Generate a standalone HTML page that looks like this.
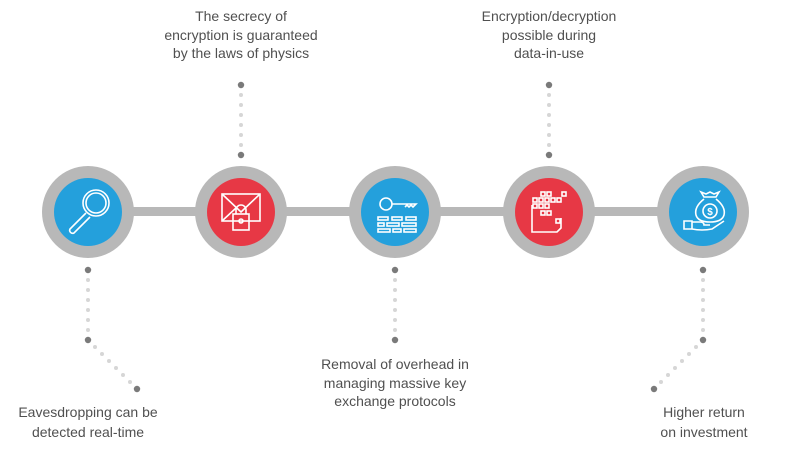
<!DOCTYPE html>
<html><head><meta charset="utf-8"><style>
html,body{margin:0;padding:0;background:#fff;}
svg{display:block}
text{font-family:"Liberation Sans",sans-serif;font-size:14px;fill:#505050;text-anchor:middle}
</style></head><body>
<svg width="790" height="450" viewBox="0 0 790 450" xmlns="http://www.w3.org/2000/svg">
<defs>
<g id="vcol">
 <circle cx="0" cy="0" r="3.2" fill="#7a7a7a"/>
 <circle cx="0" cy="10" r="2" fill="#d6d6d6"/>
 <circle cx="0" cy="20" r="2" fill="#d6d6d6"/>
 <circle cx="0" cy="30" r="2" fill="#d6d6d6"/>
 <circle cx="0" cy="40" r="2" fill="#d6d6d6"/>
 <circle cx="0" cy="50" r="2" fill="#d6d6d6"/>
 <circle cx="0" cy="60" r="2" fill="#d6d6d6"/>
 <circle cx="0" cy="70" r="3.2" fill="#7a7a7a"/>
</g>
<g id="diag">
 <circle cx="7" cy="7" r="2" fill="#d6d6d6"/>
 <circle cx="14" cy="14" r="2" fill="#d6d6d6"/>
 <circle cx="21" cy="21" r="2" fill="#d6d6d6"/>
 <circle cx="28" cy="28" r="2" fill="#d6d6d6"/>
 <circle cx="35" cy="35" r="2" fill="#d6d6d6"/>
 <circle cx="42" cy="42" r="2" fill="#d6d6d6"/>
 <circle cx="49" cy="49" r="3.2" fill="#7a7a7a"/>
</g>
</defs>
<!-- bar -->
<rect x="88" y="207" width="615" height="9" fill="#b8b8b8"/>
<g fill="#b8b8b8">
<circle cx="88" cy="212" r="46"/><circle cx="241" cy="212" r="46"/><circle cx="395" cy="212" r="46"/><circle cx="549" cy="212" r="46"/><circle cx="703" cy="212" r="46"/>
</g>
<circle cx="88" cy="212" r="34" fill="#24a0dc"/>
<circle cx="241" cy="212" r="34" fill="#e73845"/>
<circle cx="395" cy="212" r="34" fill="#24a0dc"/>
<circle cx="549" cy="212" r="34" fill="#e73845"/>
<circle cx="703" cy="212" r="34" fill="#24a0dc"/>
<!-- icons -->
<g stroke="#fff" stroke-width="1.6" fill="none">
 <circle cx="96" cy="203" r="13"/><circle cx="96" cy="203" r="10"/>
 <path d="M86 213 L70 229 a3 3 0 0 0 4 4 L90 217"/>
 <!-- envelope -->
 <rect x="222" y="194" width="38" height="27"/>
 <path d="M222 194 L241 212 L260 194 M222 221 L236 208"/>
 <rect x="233" y="214" width="16" height="16"/>
 <path d="M236 214 v-4 a5 5 0 0 1 10 0 v4"/>
 <circle cx="241" cy="221" r="2"/>
 <!-- key -->
 <circle cx="386" cy="204" r="6"/>
 <path d="M392 204 H416 l-3 3 l-2 -2 l-2 2 l-2 -2 l-2 2"/>
 <rect x="378" y="217" width="10" height="3"/><rect x="392" y="217" width="10" height="3"/><rect x="406" y="217" width="10" height="3"/>
 <rect x="378" y="223" width="6" height="3"/><rect x="387" y="223" width="12" height="3"/><rect x="402" y="223" width="14" height="3"/>
 <rect x="378" y="229" width="12" height="3"/><rect x="393" y="229" width="8" height="3"/><rect x="404" y="229" width="12" height="3"/>
 <!-- calendar grid -->
 <path d="M532 205 V232 H557 L561 228 V218"/>
 <rect x="541" y="192" width="4" height="4"/><rect x="547" y="192" width="4" height="4"/><rect x="562" y="192" width="4" height="4"/>
 <rect x="533" y="198" width="4" height="4"/><rect x="539" y="198" width="4" height="4"/><rect x="545" y="198" width="4" height="4"/><rect x="551" y="198" width="4" height="4"/><rect x="557" y="198" width="4" height="4"/>
 <rect x="533" y="204" width="4" height="4"/><rect x="539" y="204" width="4" height="4"/><rect x="545" y="204" width="4" height="4"/>
 <rect x="541" y="211" width="4" height="4"/><rect x="547" y="211" width="4" height="4"/><rect x="556" y="219" width="4" height="4"/>
 <!-- money bag -->
 <circle cx="710" cy="211" r="7"/>
 <path d="M704 197 l-3 -5 l5 2 l4 -2 l4 2 l5 -2 l-3 5 Z M704 199 q-10 8 -8 16 q2 7 14 7 q12 0 14 -7 q2 -8 -8 -16"/>
 <path d="M684 221 h8 v8 h-8 z M692 222 h8 q4 0 4 3 h6 M692 229 q10 2 20 0 l12 -8"/>
</g>
<text x="710" y="215" style="font-size:10px;fill:#fff;font-weight:bold">$</text>
<!-- dotted connectors -->
<use href="#vcol" x="241" y="85"/>
<use href="#vcol" x="549" y="85"/>
<use href="#vcol" x="88" y="270"/>
<use href="#vcol" x="395" y="270"/>
<use href="#vcol" x="703" y="270"/>
<use href="#diag" x="88" y="340"/>
<g transform="translate(703,340) scale(-1,1)"><use href="#diag"/></g>
<!-- labels -->
<text x="241" y="21">The secrecy of</text>
<text x="241" y="40">encryption is guaranteed</text>
<text x="241" y="58">by the laws of physics</text>
<text x="549" y="21">Encryption/decryption</text>
<text x="549" y="40">possible during</text>
<text x="549" y="58">data-in-use</text>
<text x="395" y="369">Removal of overhead in</text>
<text x="395" y="388">managing massive key</text>
<text x="395" y="406">exchange protocols</text>
<text x="88" y="417">Eavesdropping can be</text>
<text x="88" y="437">detected real-time</text>
<text x="704" y="417">Higher return</text>
<text x="704" y="437">on investment</text>
</svg>
</body></html>
